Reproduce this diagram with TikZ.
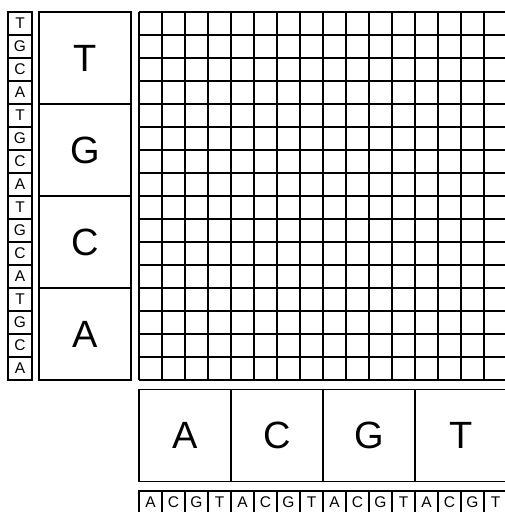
\documentclass[tikz,border=0pt]{standalone}
\usepackage{fontspec}
\setmainfont{Liberation Sans}
\begin{document}
\begin{tikzpicture}[x=1pt,y=-1pt,
  small/.style={draw,line width=1.2pt,minimum width=23pt,minimum height=23pt,inner sep=0pt,font=\fontsize{15.5}{15.5}\selectfont},
  big/.style={draw,line width=1.2pt,minimum width=92pt,minimum height=92pt,inner sep=0pt,font=\fontsize{38}{38}\selectfont},
  gridline/.style={line width=1.2pt}]
\useasboundingbox[fill=white] (0,0) rectangle (505,512);
% left small strip
\foreach \L [count=\i from 0] in {T,G,C,A,T,G,C,A,T,G,C,A,T,G,C,A}{
  \node[small,minimum width=24pt] (ls\i) at (20,{12+23*\i+11.5}) {\L};
}
% left big column
\foreach \L [count=\i from 0] in {T,G,C,A}{
  \node[big] (lb\i) at (85,{12+92*\i+46}) {\L};
}
% grid
\foreach \i in {0,...,16}{
  \draw[gridline] ({139+23*\i},12) -- ({139+23*\i},380);
  \draw[gridline] (139,{12+23*\i}) -- (510,{12+23*\i});
}
% bottom big row
\foreach \L [count=\i from 0] in {A,C,G,T}{
  \node[big] (bb\i) at ({139+92*\i+46},{389+46.5}) {\L};
}
% bottom small strip
\foreach \L [count=\i from 0] in {A,C,G,T,A,C,G,T,A,C,G,T,A,C,G,T}{
  \node[small] (bs\i) at ({139+23*\i+11.5},{491+11.5}) {\L};
}
\end{tikzpicture}
\end{document}
